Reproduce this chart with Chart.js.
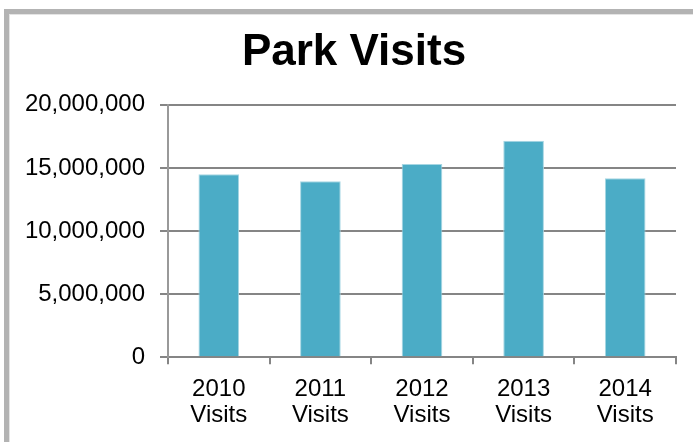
<!DOCTYPE html>
<html>
<head>
<meta charset="utf-8">
<script src="https://cdn.jsdelivr.net/npm/chart.js@4"></script>
<style>
  html, body { margin: 0; padding: 0; background: #fff; overflow: hidden; }
  #frame {
    position: absolute; left: 4px; top: 9px; width: 800px; height: 600px;
    border-left: 5px solid #b3b3b3; border-top: 5px solid #b3b3b3;
    box-shadow: inset 1px 1px 0 #e4e4e4;
  }
  #chart { position: absolute; left: 0; top: 0; }
</style>
</head>
<body>
<div id="frame"></div>
<canvas id="chart" width="693" height="442"></canvas>
<script>
const years = ['2010', '2011', '2012', '2013', '2014'];
const visits = [14500000, 13950000, 15300000, 17150000, 14180000];
const yTicks = [0, 5000000, 10000000, 15000000, 20000000];

const FONT = "'Liberation Sans', Arial, sans-serif";
const GRID = '#858585';

Chart.defaults.font.family = FONT;
Chart.defaults.color = '#000';

// the title sits centred over the whole frame, a little right of the canvas middle
const titleShift = {
    id: 'titleShift',
    afterLayout(chart) {
        if (chart.titleBlock) chart.titleBlock.left += 12;
    }
};

new Chart(document.getElementById('chart'), {
    type: 'bar',
    data: {
        labels: years.map(y => [y, 'Visits']),
        datasets: [{
            label: 'Visits',
            data: visits,
            backgroundColor: '#4bacc6',
            borderColor: '#a6d6e3',
            borderWidth: 1,
            categoryPercentage: 1,
            barPercentage: 0.4
        }]
    },
    options: {
        responsive: false,
        animation: false,
        layout: { padding: { left: 20, right: 17, top: 0, bottom: 1 } },
        plugins: {
            legend: { display: false },
            tooltip: { enabled: false },
            title: {
                display: true,
                text: 'Park Visits',
                color: '#000',
                font: { size: 44, weight: 'bold' },
                padding: { top: 26, bottom: 26 }
            }
        },
        scales: {
            x: {
                offset: true,
                grid: { drawOnChartArea: false, offset: true, color: GRID, lineWidth: 2, tickLength: 7 },
                border: { display: true, color: GRID, width: 2 },
                ticks: { font: { size: 24, lineHeight: 1.1 }, padding: 12, maxRotation: 0 }
            },
            y: {
                min: yTicks[0],
                max: yTicks[yTicks.length - 1],
                afterFit: s => { s.width = 148; },
                afterBuildTicks: s => { s.ticks = yTicks.map(v => ({ value: v })); },
                grid: { color: GRID, lineWidth: 2, tickLength: 8 },
                border: { display: true, color: '#999', width: 2 },
                ticks: {
                    font: { size: 24 },
                    padding: 15,
                    callback: v => v.toLocaleString('en-US')
                }
            }
        }
    },
    plugins: [titleShift]
});
</script>
</body>
</html>
